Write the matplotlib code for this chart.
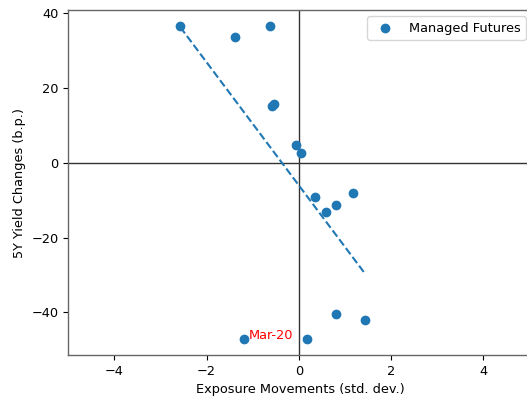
import matplotlib
matplotlib.use("Agg")
import matplotlib.pyplot as plt
import numpy as np

# Data
exposure = [-2.57, -1.375, -0.62, -0.58, -0.53, -0.05, 0.05, 0.35, 0.60, 0.81, 1.18, -1.19, 0.18, 0.81, 1.44]
yield_chg = [36.4, 33.5, 36.6, 15.1, 15.6, 4.8, 2.7, -9.3, -13.1, -11.3, -8.1, -47.2, -47.0, -40.5, -42.1]
fit_x = [-2.57, 1.44]
fit_y = [36.2, -29.7]
label_idx = 11
label_text = "Mar-20"
series_name = "Managed Futures"

plt.rcParams["font.size"] = 9.3

fig = plt.figure(figsize=(5.27, 3.98), dpi=100)
ax = fig.add_axes([68.3 / 527, 43 / 398, (532 - 68.3) / 527, 345 / 398])

ax.axhline(0, color="0.2", linewidth=1.0)
ax.axvline(0, color="0.2", linewidth=1.0)
ax.scatter(exposure, yield_chg, color="C0", label=series_name, zorder=3)
ax.plot(fit_x, fit_y, "--", color="C0")
ax.text(exposure[label_idx] + 0.1, yield_chg[label_idx], label_text, color="red")

for sp in ax.spines.values():
    sp.set_color("0.4")
    sp.set_linewidth(1.0)

ax.set_xlim(-5, 5.06)
ax.set_xticks([-4, -2, 0, 2, 4])
ax.set_yticks([-40, -20, 0, 20, 40])
ax.set_xlabel("Exposure Movements (std. dev.)")
ax.set_ylabel("5Y Yield Changes (b.p.)")
ax.legend(loc="upper right")

fig.savefig("out.png", dpi=100)
